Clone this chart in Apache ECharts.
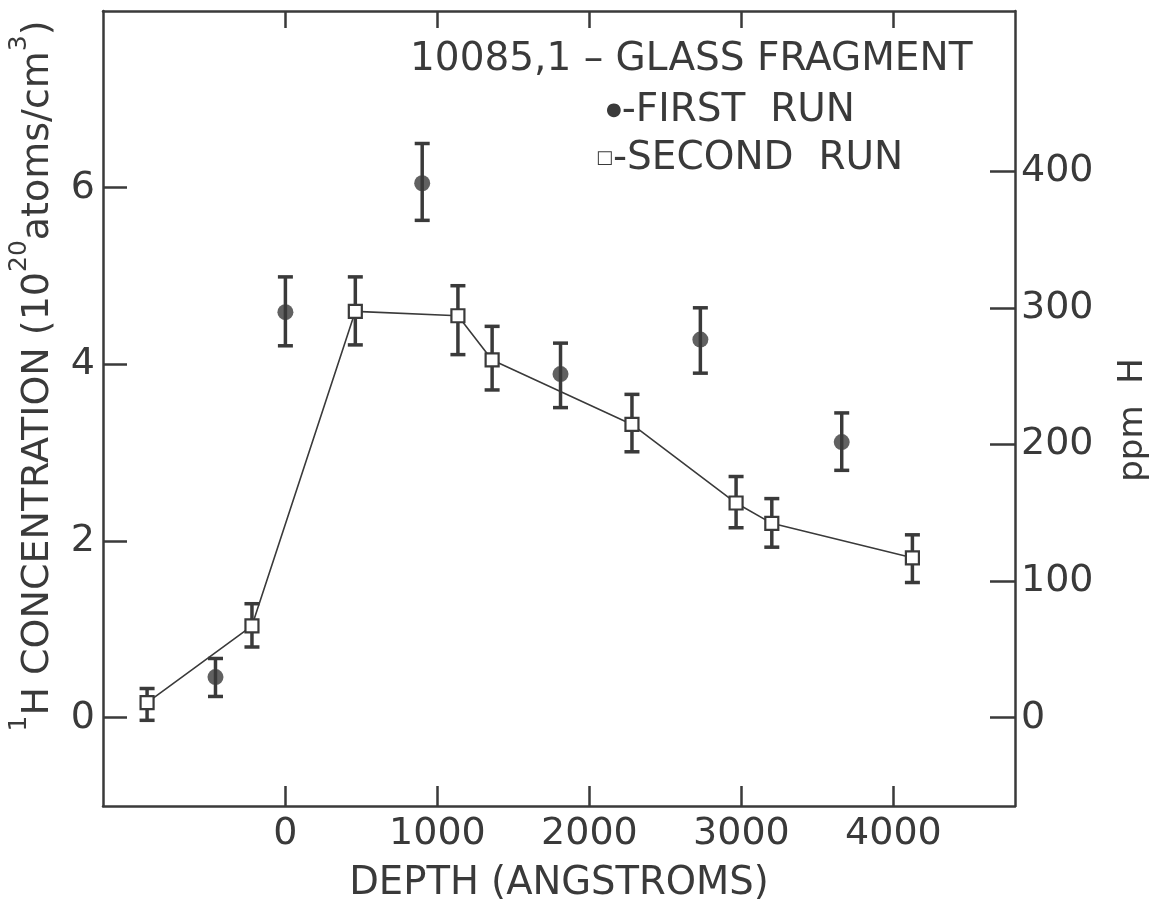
<!DOCTYPE html>
<html>
<head>
<meta charset="utf-8">
<title>10085,1 – Glass fragment hydrogen depth profile</title>
<script src="https://cdn.jsdelivr.net/npm/echarts@6/dist/echarts.min.js"></script>
<style>
  html, body { margin: 0; padding: 0; background: #ffffff; }
  #chart { width: 1153px; height: 900px; }
</style>
</head>
<body>
<div id="chart"></div>
<script>
// First run (filled circles): depth in angstroms, concentration (10^20 atoms/cm^3), error bar limits
const firstDepth = [-460, 0, 900, 1810, 2730, 3660];
const firstConc  = [0.46, 4.59, 6.05, 3.89, 4.28, 3.12];
const firstLow   = [0.24, 4.21, 5.63, 3.51, 3.90, 2.80];
const firstHigh  = [0.67, 4.99, 6.50, 4.24, 4.64, 3.45];

// Second run (open squares, joined by a line)
const secondDepth = [-910, -220, 460, 1135, 1360, 2280, 2965, 3200, 4125];
const secondConc  = [0.17, 1.04, 4.60, 4.55, 4.05, 3.32, 2.43, 2.20, 1.81];
const secondLow   = [-0.03, 0.80, 4.22, 4.11, 3.71, 3.01, 2.15, 1.93, 1.53];
const secondHigh  = [0.33, 1.29, 4.99, 4.89, 4.43, 3.66, 2.73, 2.48, 2.07];

// Tick labels
const depthTicks = [0, 1000, 2000, 3000, 4000];
const concTicks  = [0, 2, 4, 6];
const ppmTicks   = [0, 100, 200, 300, 400];

// 1 unit of 10^20 atoms/cm^3 expressed in ppm H
const PPM_PER_UNIT = 64.7;

const INK = '#3a3a3a';
const FONT = 'DejaVu Sans';

const concMin = -1, concMax = 8;

function zip(xs, ys) { return xs.map((x, i) => [x, ys[i]]); }
function bars(xs, lo, hi) { return xs.map((x, i) => [x, lo[i], hi[i]]); }
function plain(v) { return String(v); }

function errorBarItem(params, api) {
  const x = api.value(0);
  const lo = api.coord([x, api.value(1)]);
  const hi = api.coord([x, api.value(2)]);
  const half = 7.5;
  const style = { stroke: INK, lineWidth: 3.5, fill: null };
  return {
    type: 'group',
    children: [
      { type: 'line', shape: { x1: lo[0], y1: lo[1], x2: hi[0], y2: hi[1] }, style: style },
      { type: 'line', shape: { x1: lo[0] - half, y1: lo[1], x2: lo[0] + half, y2: lo[1] }, style: style },
      { type: 'line', shape: { x1: hi[0] - half, y1: hi[1], x2: hi[0] + half, y2: hi[1] }, style: style }
    ]
  };
}

const axisLine = { show: true, onZero: false, lineStyle: { color: INK, width: 2.5 } };
const labelText = { color: INK, fontFamily: FONT, fontSize: 38, formatter: plain };

const chart = echarts.init(document.getElementById('chart'), null, { renderer: 'canvas' });

chart.setOption({
  backgroundColor: '#ffffff',
  animation: false,
  grid: { left: 103, right: 138, top: 11, bottom: 94, containLabel: false, outerBoundsMode: 'none' },
  xAxis: [
    {
      type: 'value', position: 'bottom', min: -1200, max: 4800,
      axisLine: axisLine,
      axisTick: { show: true, inside: true, length: 20, customValues: depthTicks,
                  lineStyle: { color: INK, width: 2.5 } },
      axisLabel: Object.assign({ customValues: depthTicks, margin: 9 }, labelText),
      splitLine: { show: false },
      name: 'DEPTH (ANGSTROMS)', nameLocation: 'middle', nameGap: 58,
      nameTextStyle: { color: INK, fontFamily: FONT, fontSize: 38.5 }
    },
    {
      type: 'value', position: 'top', min: -1200, max: 4800,
      axisLine: axisLine,
      axisTick: { show: true, inside: true, length: 17, customValues: depthTicks,
                  lineStyle: { color: INK, width: 2.5 } },
      axisLabel: { show: false },
      splitLine: { show: false }
    }
  ],
  yAxis: [
    {
      type: 'value', position: 'left', min: concMin, max: concMax,
      axisLine: axisLine,
      axisTick: { show: true, inside: true, length: 24, customValues: concTicks,
                  lineStyle: { color: INK, width: 2.5 } },
      axisLabel: Object.assign({ customValues: concTicks, margin: 8 }, labelText),
      splitLine: { show: false }
    },
    {
      type: 'value', position: 'right',
      min: concMin * PPM_PER_UNIT, max: concMax * PPM_PER_UNIT,
      axisLine: axisLine,
      axisTick: { show: true, inside: true, length: 25, customValues: ppmTicks,
                  lineStyle: { color: INK, width: 2.5 } },
      axisLabel: Object.assign({ customValues: ppmTicks, margin: 6 }, labelText),
      splitLine: { show: false }
    }
  ],
  series: [
    {
      name: 'first run error', type: 'custom', xAxisIndex: 0, yAxisIndex: 0,
      renderItem: errorBarItem, data: bars(firstDepth, firstLow, firstHigh), z: 2, silent: true
    },
    {
      name: 'second run error', type: 'custom', xAxisIndex: 0, yAxisIndex: 0,
      renderItem: errorBarItem, data: bars(secondDepth, secondLow, secondHigh), z: 2, silent: true
    },
    {
      name: 'SECOND RUN', type: 'line', xAxisIndex: 0, yAxisIndex: 0,
      data: zip(secondDepth, secondConc),
      symbol: 'rect', symbolSize: 13, showAllSymbol: true,
      lineStyle: { color: INK, width: 1.6 },
      itemStyle: { color: '#ffffff', borderColor: INK, borderWidth: 2.2 },
      z: 3
    },
    {
      name: 'FIRST RUN', type: 'scatter', xAxisIndex: 0, yAxisIndex: 0,
      data: zip(firstDepth, firstConc),
      symbol: 'circle', symbolSize: 16,
      itemStyle: { color: INK },
      z: 4
    }
  ],
  graphic: [
    {
      type: 'text', left: 410, top: 40, z: 10,
      style: { text: '10085,1 – GLASS FRAGMENT', fill: INK, font: '39px "DejaVu Sans"' }
    },
    {
      type: 'text', left: 606, top: 91, z: 10,
      style: {
        text: '{d|●}{t|-FIRST  RUN}',
        rich: {
          d: { fill: INK, fontSize: 18, fontFamily: FONT, verticalAlign: 'middle' },
          t: { fill: INK, fontSize: 39, fontFamily: FONT, verticalAlign: 'middle' }
        }
      }
    },
    {
      type: 'text', left: 596, top: 139, z: 10,
      style: {
        text: '{d|□}{t|-SECOND  RUN}',
        rich: {
          d: { fill: INK, fontSize: 18, fontFamily: FONT, verticalAlign: 'middle' },
          t: { fill: INK, fontSize: 39, fontFamily: FONT, verticalAlign: 'middle' }
        }
      }
    },
    {
      // Left axis title, reading bottom to top
      type: 'text', x: 32, y: 376, rotation: Math.PI / 2, z: 10,
      style: {
        text: '{s|1}{b|H CONCENTRATION (10}{s|20}{b|atoms/cm}{s|3}{b|)}',
        align: 'center', verticalAlign: 'middle',
        rich: {
          b: { fill: INK, fontSize: 38, fontFamily: FONT, verticalAlign: 'bottom', lineHeight: 50 },
          s: { fill: INK, fontSize: 25, fontFamily: FONT, verticalAlign: 'top', lineHeight: 50 }
        }
      }
    },
    {
      // Right axis title
      type: 'text', x: 1133, y: 420, rotation: Math.PI / 2, z: 10,
      style: {
        text: 'ppm  H', fill: INK, font: '34px "DejaVu Sans"',
        align: 'center', verticalAlign: 'middle'
      }
    }
  ]
});
</script>
</body>
</html>
